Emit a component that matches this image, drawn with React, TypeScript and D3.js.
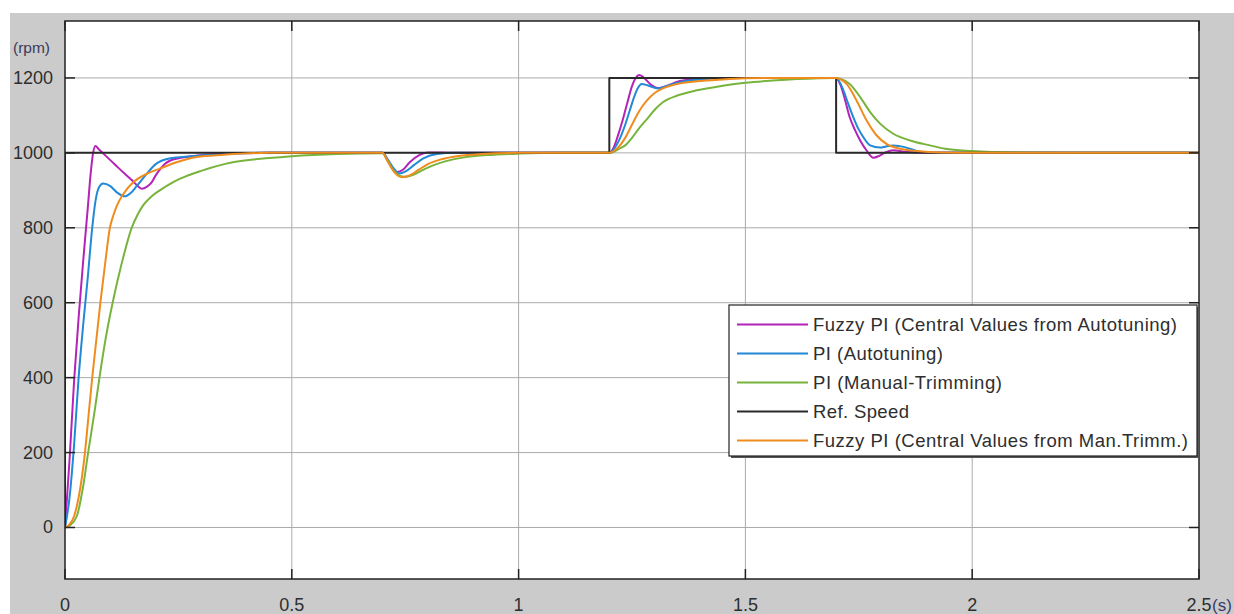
import * as d3 from 'd3';

// axis ticks
const xTicks = [0, 0.5, 1, 1.5, 2, 2.5];
const xTickLabels = ['0', '0.5', '1', '1.5', '2', '2.5'];
const yTicks = [0, 200, 400, 600, 800, 1000, 1200];
const yTickLabels = ['0', '200', '400', '600', '800', '1000', '1200'];

// series, [time (s), speed (rpm)]
const fuzzyAuto: [number, number][] = [
  [0, 0], [0.01, 180], [0.02, 390], [0.03, 560], [0.04, 710], [0.05, 850], [0.057, 950], [0.062, 1000],
  [0.067, 1018], [0.075, 1009], [0.09, 992], [0.11, 969], [0.13, 946], [0.15, 924], [0.16, 912],
  [0.17, 904], [0.18, 909], [0.191, 921], [0.2, 940], [0.209, 955], [0.22, 970], [0.231, 979],
  [0.254, 986], [0.28, 991], [0.32, 996], [0.38, 999], [0.45, 1000], [0.7, 1000],
  [0.71, 985], [0.72, 962], [0.732, 949], [0.745, 955], [0.76, 975], [0.78, 993], [0.8, 1001],
  [0.83, 1001], [0.87, 1000], [1.2, 1000],
  [1.21, 1015], [1.22, 1050], [1.23, 1090], [1.24, 1135], [1.25, 1178], [1.258, 1200], [1.266, 1208],
  [1.275, 1202], [1.29, 1184], [1.31, 1173], [1.33, 1180], [1.35, 1190], [1.38, 1196], [1.45, 1200],
  [1.7, 1200], [1.71, 1180], [1.72, 1140], [1.73, 1095], [1.742, 1060], [1.753, 1033], [1.768, 1005],
  [1.782, 987], [1.795, 992], [1.81, 1002], [1.826, 1007], [1.85, 1003], [1.9, 1000], [2.5, 1000],
];

const piAuto: [number, number][] = [
  [0, 0], [0.01, 80], [0.02, 220], [0.03, 400], [0.04, 540], [0.05, 665], [0.06, 800], [0.067, 870],
  [0.075, 908], [0.084, 918], [0.1, 911], [0.115, 894], [0.132, 884], [0.145, 893], [0.158, 911],
  [0.18, 944], [0.2, 970], [0.23, 985], [0.28, 991], [0.35, 997], [0.45, 1000], [0.7, 1000],
  [0.71, 985], [0.725, 958], [0.737, 945], [0.75, 950], [0.77, 968], [0.79, 985], [0.82, 997],
  [0.86, 1000], [1.2, 1000],
  [1.21, 1010], [1.22, 1030], [1.235, 1075], [1.245, 1113], [1.255, 1150], [1.263, 1173], [1.271, 1184],
  [1.285, 1180], [1.307, 1172], [1.33, 1180], [1.36, 1190], [1.4, 1196], [1.45, 1200], [1.7, 1200],
  [1.716, 1167], [1.727, 1130], [1.738, 1095], [1.75, 1062], [1.76, 1042], [1.775, 1020], [1.797, 1014],
  [1.81, 1017], [1.826, 1020], [1.84, 1018], [1.855, 1014], [1.885, 1003], [1.92, 1000], [2.5, 1000],
];

const piManual: [number, number][] = [
  [0, 0], [0.01, 5], [0.026, 30], [0.04, 110], [0.051, 200], [0.064, 300], [0.076, 400], [0.089, 500],
  [0.105, 600], [0.124, 700], [0.147, 800], [0.16, 835], [0.173, 861], [0.19, 883], [0.209, 900],
  [0.23, 916], [0.254, 931], [0.3, 952], [0.37, 975], [0.45, 986], [0.5, 991], [0.6, 997], [0.7, 999],
  [0.71, 982], [0.725, 952], [0.748, 936], [0.765, 940], [0.785, 952], [0.81, 966], [0.84, 978],
  [0.88, 988], [0.93, 994], [1.0, 998], [1.1, 1000], [1.2, 1000],
  [1.21, 1003], [1.22, 1010], [1.235, 1020], [1.25, 1040], [1.265, 1065], [1.283, 1090], [1.3, 1115],
  [1.318, 1135], [1.35, 1153], [1.393, 1167], [1.45, 1179], [1.5, 1187], [1.56, 1193], [1.614, 1197],
  [1.7, 1200], [1.71, 1197], [1.73, 1184], [1.753, 1149], [1.775, 1109], [1.797, 1078], [1.826, 1051],
  [1.863, 1033], [1.907, 1020], [1.94, 1011], [2.0, 1005], [2.1, 1001], [2.2, 1000], [2.5, 1000],
];

const refSpeed: [number, number][] = [
  [0, 0], [0, 1000], [1.2, 1000], [1.2, 1200], [1.7, 1200], [1.7, 1000], [2.5, 1000],
];

const fuzzyMan: [number, number][] = [
  [0, 0], [0.01, 8], [0.02, 30], [0.03, 80], [0.044, 200], [0.052, 300], [0.06, 400], [0.069, 500],
  [0.078, 600], [0.088, 700], [0.099, 800], [0.107, 835], [0.114, 858], [0.129, 891], [0.151, 922],
  [0.18, 944], [0.209, 958], [0.246, 975], [0.29, 989], [0.35, 995], [0.45, 1000], [0.7, 1000],
  [0.71, 980], [0.725, 950], [0.743, 935], [0.76, 940], [0.78, 955], [0.8, 970], [0.83, 983],
  [0.87, 992], [0.92, 997], [1.0, 1000], [1.2, 1000],
  [1.21, 1005], [1.22, 1015], [1.235, 1040], [1.25, 1075], [1.265, 1110], [1.283, 1140], [1.3, 1160],
  [1.318, 1172], [1.35, 1184], [1.393, 1191], [1.45, 1196], [1.5, 1199], [1.55, 1200], [1.7, 1200],
  [1.71, 1196], [1.723, 1184], [1.745, 1140], [1.767, 1087], [1.789, 1047], [1.811, 1024], [1.841, 1011],
  [1.878, 1005], [1.93, 1001], [2.0, 1000], [2.5, 1000],
];

const seriesNames = [
  'Fuzzy PI (Central Values from Autotuning)',
  'PI (Autotuning)',
  'PI (Manual-Trimming)',
  'Ref. Speed',
  'Fuzzy PI (Central Values from Man.Trimm.)',
];
const seriesData = [fuzzyAuto, piAuto, piManual, refSpeed, fuzzyMan];
const seriesColors = ['#b423b8', '#2388d6', '#78b43c', '#2a2a2a', '#ef8c1e'];
const legendWidths = [364, 130, 189, 96, 375];

const FONT = '"Liberation Sans", Arial, sans-serif';

export default function App() {
  const W = 1234;
  const H = 614;
  const left = 65, top = 21, right = 1199, bottom = 579;

  const x = d3.scaleLinear().domain([0, 2.5]).range([left, right]);
  const y = d3.scaleLinear().domain([-137.5, 1352]).range([bottom, top]);

  const smooth = d3.line<[number, number]>()
    .x(d => x(d[0]))
    .y(d => y(d[1]))
    .curve(d3.curveMonotoneX);
  const step = d3.line<[number, number]>()
    .x(d => x(d[0]))
    .y(d => y(d[1]));

  const lgX = 729, lgY = 305, lgW = 468, lgH = 151;

  return (
    <svg width={W} height={H} style={{ position: 'absolute', left: 0, top: 0, display: 'block' }}
      fontFamily={FONT}>
      <rect x={0} y={0} width={W} height={H} fill="#fff" />
      <rect x={10} y={13} width={W - 10} height={H - 13} fill="#cbcbcb" />
      <rect x={left} y={top} width={right - left} height={bottom - top} fill="#fff" />

      <defs>
        <clipPath id="plotClip">
          <rect x={left} y={top} width={right - left} height={bottom - top} />
        </clipPath>
      </defs>

      {/* grid */}
      {xTicks.slice(1, -1).map(t => (
        <line key={'gx' + t} x1={x(t)} x2={x(t)} y1={top} y2={bottom} stroke="#ababab" strokeWidth={1} />
      ))}
      {yTicks.map(t => (
        <line key={'gy' + t} x1={left} x2={right} y1={y(t)} y2={y(t)} stroke="#ababab" strokeWidth={1} />
      ))}

      {/* series */}
      <g clipPath="url(#plotClip)">
        {seriesData.map((d, i) => (
          <path key={i} d={(i === 3 ? step(d) : smooth(d)) || ''} fill="none"
            stroke={seriesColors[i]} strokeWidth={2} strokeLinejoin="round" />
        ))}
      </g>

      {/* frame + ticks */}
      <rect x={left} y={top} width={right - left} height={bottom - top} fill="none" stroke="#222" strokeWidth={1.5} />
      {yTicks.map(t => (
        <g key={'ty' + t}>
          <line x1={left} x2={left + 10} y1={y(t)} y2={y(t)} stroke="#222" strokeWidth={1.5} />
          <line x1={right - 10} x2={right} y1={y(t)} y2={y(t)} stroke="#222" strokeWidth={1.5} />
        </g>
      ))}
      {xTicks.map(t => (
        <g key={'tx' + t}>
          <line x1={x(t)} x2={x(t)} y1={top} y2={top + 10} stroke="#222" strokeWidth={1.5} />
          <line x1={x(t)} x2={x(t)} y1={bottom - 10} y2={bottom} stroke="#222" strokeWidth={1.5} />
        </g>
      ))}

      {/* tick labels */}
      {yTicks.map((t, i) => (
        <text key={'ly' + t} x={53} y={y(t)} textAnchor="end" dominantBaseline="central"
          fontSize={18} fill="#2e2e2e">{yTickLabels[i]}</text>
      ))}
      {xTicks.map((t, i) => (
        <text key={'lx' + t} x={x(t)} y={605} textAnchor="middle" dominantBaseline="central"
          fontSize={18} fill="#2e2e2e">{xTickLabels[i]}</text>
      ))}
      <text x={1212} y={605} dominantBaseline="central" fontSize={17} fill="#3a3a6a">(s)</text>
      <text x={13} y={47} dominantBaseline="central" fontSize={15.5} fill="#3a3a5a">(rpm)</text>

      {/* legend */}
      <rect x={lgX + 2} y={lgY + 2} width={lgW} height={lgH} fill="#555" />
      <rect x={lgX} y={lgY} width={lgW} height={lgH} fill="#fff" stroke="#222" strokeWidth={1.2} />
      {seriesNames.map((name, i) => {
        const ry = lgY + 19.5 + i * 29;
        return (
          <g key={'lg' + i}>
            <line x1={737} x2={808} y1={ry} y2={ry} stroke={seriesColors[i]} strokeWidth={2} />
            <text x={813} y={ry} dominantBaseline="central" fontSize={18.5} fill="#2e2e2e"
              textLength={legendWidths[i]} lengthAdjust="spacing">{name}</text>
          </g>
        );
      })}
    </svg>
  );
}
